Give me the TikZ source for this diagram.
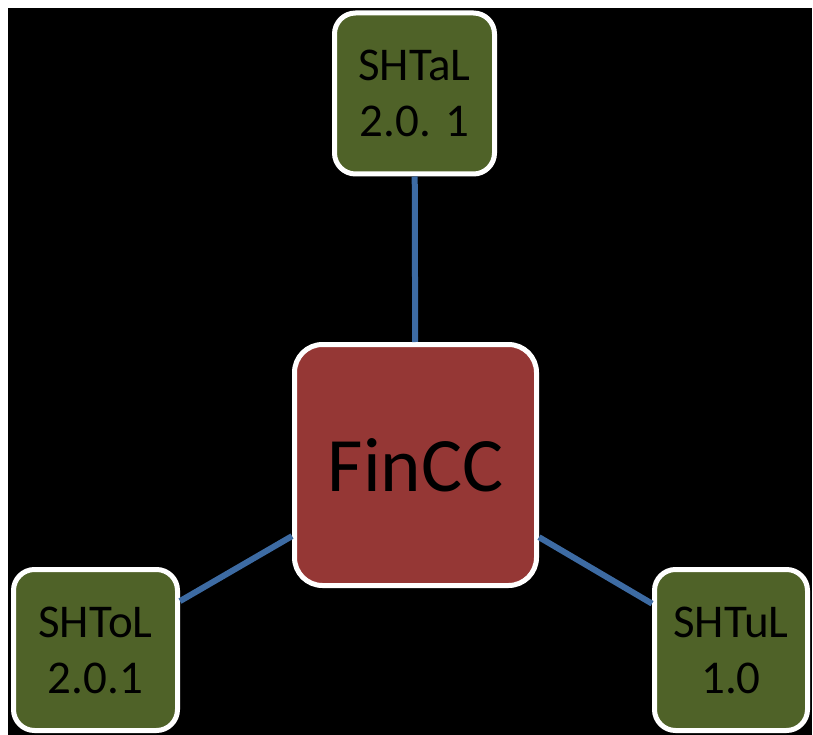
\documentclass[tikz,border=0pt]{standalone}
\usepackage{fontspec}
\setmainfont{Carlito}
\definecolor{hubred}{HTML}{953735}
\definecolor{leafgreen}{HTML}{4F6228}
\definecolor{linkblue}{HTML}{3D6BA3}
\tikzset{
  hub/.style={draw=white, line width=5pt, fill=hubred, rounded corners=28pt,
    inner sep=0pt, minimum width=242pt, minimum height=241pt,
    font=\fontsize{77}{90}\selectfont, text=black},
  leaf/.style={draw=white, line width=5pt, fill=leafgreen, rounded corners=21pt,
    inner sep=0pt, minimum height=161pt, align=center,
    font=\fontsize{47}{56}\selectfont, text=black},
  link/.style={draw=linkblue, line width=6pt}
}
\begin{document}
\begin{tikzpicture}[x=1pt,y=-1pt]
  \useasboundingbox (0,0) rectangle (813,735);
  \fill[white] (0,0) rectangle (813,735);
  \fill[black] (8,8) rectangle (812,735);
  \node[hub] (hub) at (415.5,465) {FinCC};
  \node[leaf, minimum width=160pt] (top) at (414.5,93.5) {SHTaL\\2.0. 1};
  \node[leaf, minimum width=164pt] (left) at (95.5,650) {SHToL\\2.0.1};
  \node[leaf, minimum width=153pt] (right) at (731,650) {SHTuL\\1.0};
  \draw[link] (top) -- (hub);
  \draw[link] (left) -- (hub);
  \draw[link] (right) -- (hub);
\end{tikzpicture}
\end{document}
